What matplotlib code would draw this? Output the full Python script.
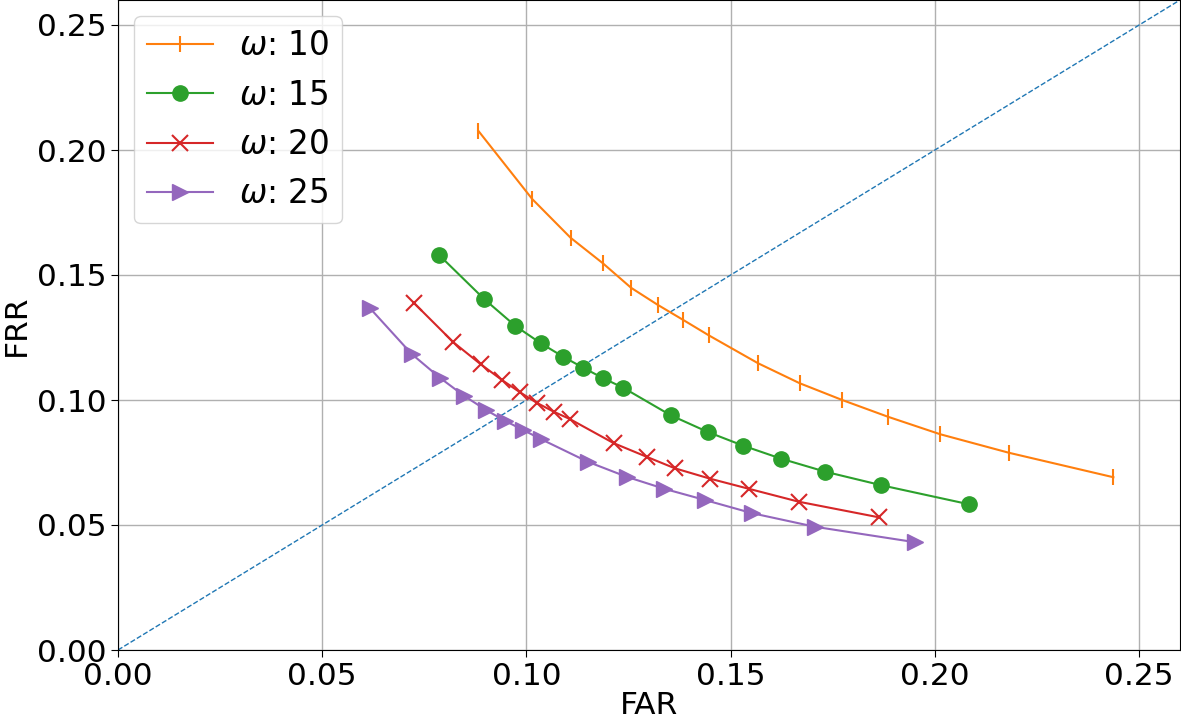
import matplotlib
matplotlib.use("Agg")
import matplotlib.pyplot as plt
import numpy as np

# FAR / FRR для разных значений omega
far_10 = [0.0882, 0.1014, 0.1108, 0.1187, 0.1256, 0.1321, 0.1384, 0.1446,
          0.1567, 0.1669, 0.1773, 0.1885, 0.2013, 0.2181, 0.2437]
frr_10 = [0.2077, 0.1804, 0.1649, 0.1547, 0.1449, 0.1381, 0.1320, 0.1259,
          0.1147, 0.1067, 0.1000, 0.0933, 0.0863, 0.0789, 0.0691]

far_15 = [0.0786, 0.0897, 0.0973, 0.1035, 0.1090, 0.1139, 0.1188, 0.1237,
          0.1353, 0.1444, 0.1531, 0.1624, 0.1732, 0.1869, 0.2083]
frr_15 = [0.1580, 0.1403, 0.1296, 0.1227, 0.1173, 0.1129, 0.1087, 0.1049,
          0.0939, 0.0872, 0.0817, 0.0765, 0.0713, 0.0659, 0.0583]

far_20 = [0.0724, 0.0821, 0.0888, 0.0940, 0.0984, 0.1025, 0.1067, 0.1106,
          0.1214, 0.1294, 0.1363, 0.1450, 0.1544, 0.1667, 0.1862]
frr_20 = [0.1389, 0.1231, 0.1143, 0.1080, 0.1031, 0.0989, 0.0953, 0.0924,
          0.0827, 0.0773, 0.0727, 0.0685, 0.0645, 0.0593, 0.0531]

far_25 = [0.0617, 0.0719, 0.0788, 0.0847, 0.0900, 0.0947, 0.0992, 0.1035,
          0.1150, 0.1245, 0.1337, 0.1437, 0.1553, 0.1706, 0.1952]
frr_25 = [0.1367, 0.1184, 0.1089, 0.1017, 0.0961, 0.0917, 0.0880, 0.0844,
          0.0753, 0.0693, 0.0645, 0.0600, 0.0547, 0.0493, 0.0431]

omegas = [10, 15, 20, 25]
markers = ['|', 'o', 'x', '>']
diag = [0.0, 0.26]

fig = plt.figure(figsize=(11.81, 7.2), dpi=100)
ax = fig.add_axes([118 / 1181, 70 / 720, 1062 / 1181, 650 / 720])

ax.plot(diag, diag, '--', color='C0', linewidth=1)

series = [(far_10, frr_10), (far_15, frr_15), (far_20, frr_20), (far_25, frr_25)]
for i, ((far, frr), w, m) in enumerate(zip(series, omegas, markers)):
    ms = 11 if m != '|' else 12
    ax.plot(far, frr, marker=m, color='C{}'.format(i + 1), linewidth=1.5,
            markersize=ms, markeredgewidth=1.5 if m in '|x' else 1,
            label=r'$\omega$: {}'.format(w))

ax.set_xlim(0, 0.26)
ax.set_ylim(0, 0.26)
ax.set_xticks(np.arange(0, 0.26, 0.05))
ax.set_yticks(np.arange(0, 0.26, 0.05))
ax.grid(True, color='#b0b0b0', linewidth=1)
ax.tick_params(labelsize=22.5, length=5)
ax.set_xlabel("FAR", fontsize=22.5, labelpad=0)
ax.set_ylabel("FRR", fontsize=22.5, labelpad=4)
ax.legend(loc='upper left', fontsize=23.5, handlelength=2.0)

fig.savefig("out.png", dpi=100)
